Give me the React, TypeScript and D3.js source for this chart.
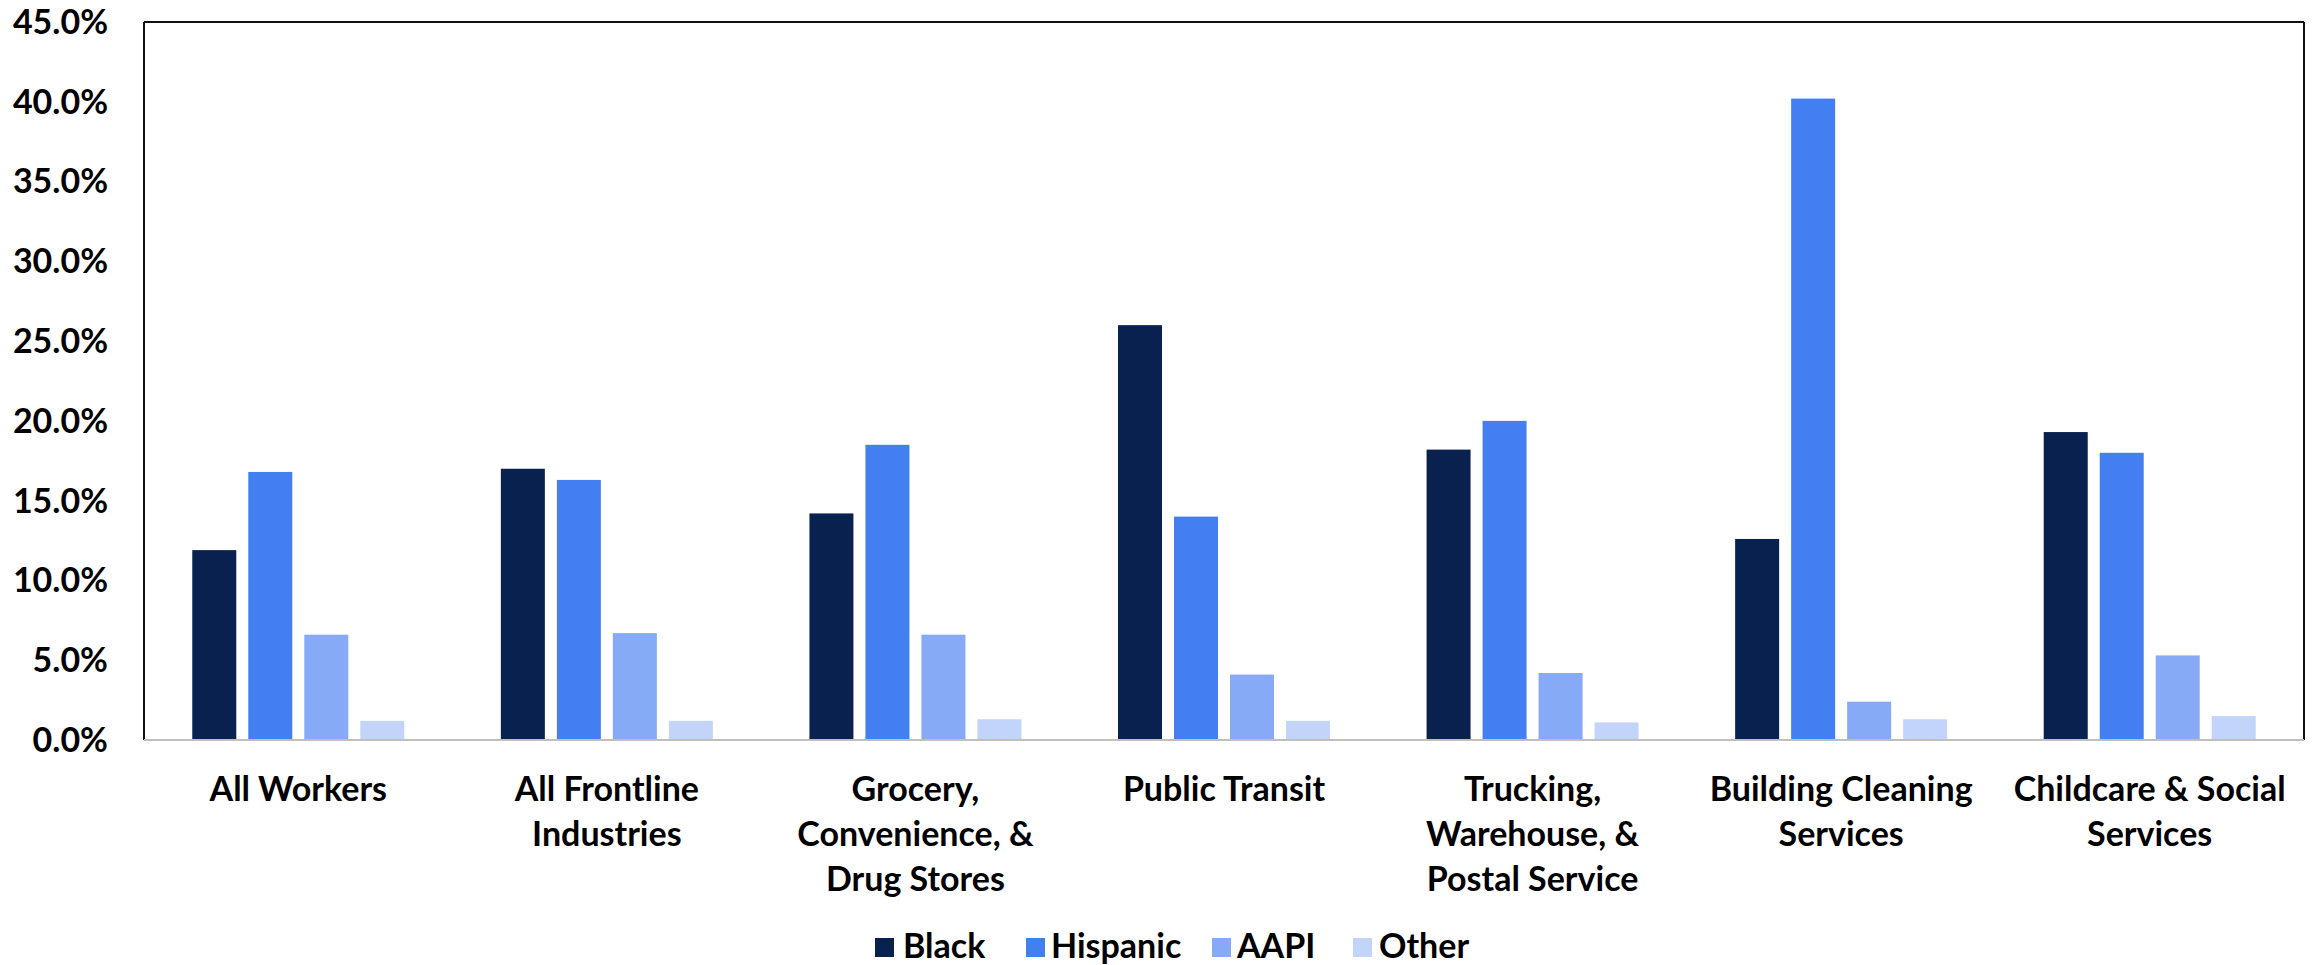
import React from "react";
import * as d3 from "d3";

// Share of workers by race/ethnicity across frontline industries
const categories: string[][] = [
  ["All Workers"],
  ["All Frontline", "Industries"],
  ["Grocery,", "Convenience, &", "Drug Stores"],
  ["Public Transit"],
  ["Trucking,", "Warehouse, &", "Postal Service"],
  ["Building Cleaning", "Services"],
  ["Childcare & Social", "Services"],
];

const seriesNames = ["Black", "Hispanic", "AAPI", "Other"];

const black = [0.119, 0.17, 0.142, 0.26, 0.182, 0.126, 0.193];
const hispanic = [0.168, 0.163, 0.185, 0.14, 0.2, 0.402, 0.18];
const aapi = [0.066, 0.067, 0.066, 0.041, 0.042, 0.024, 0.053];
const other = [0.012, 0.012, 0.013, 0.012, 0.011, 0.013, 0.015];

const yTicks = [0, 0.05, 0.1, 0.15, 0.2, 0.25, 0.3, 0.35, 0.4, 0.45];

const colors = ["#08214F", "#447FF1", "#86AAF5", "#C2D4FA"];

const W = 2318;
const H = 965;
const FONT = "Lato, 'Open Sans', sans-serif";

export default function App() {
  const values = [black, hispanic, aapi, other];
  const left = 144;
  const right = 2304;
  const top = 22;
  const bottom = 740;

  const x0 = d3
    .scaleBand<number>()
    .domain(categories.map((_, i) => i))
    .range([left, right])
    .paddingInner(0)
    .paddingOuter(0);
  const bw = x0.bandwidth();
  const groupW = 212;
  const x1 = d3
    .scaleBand<number>()
    .domain(seriesNames.map((_, i) => i))
    .range([(bw - groupW) / 2, (bw + groupW) / 2])
    .paddingInner(12 / 56)
    .paddingOuter(0);
  const y = d3.scaleLinear().domain([0, 0.45]).range([bottom, top]);
  const fmt = d3.format(".1%");

  const legendItems = [
    { sx: 875, tx: 903 },
    { sx: 1026, tx: 1051 },
    { sx: 1212, tx: 1237 },
    { sx: 1353, tx: 1379 },
  ];

  return (
    <svg
      width={W}
      height={H}
      style={{ position: "absolute", left: 0, top: 0, background: "#fff" }}
      fontFamily={FONT}
    >
      <rect x={0} y={0} width={W} height={H} fill="#fff" />
      {/* y-axis tick labels */}
      {yTicks.map((t) => (
        <text
          key={t}
          x={108}
          y={y(t)}
          dy="0.35em"
          textAnchor="end"
          fontSize={34}
          fontWeight={700}
          fill="#000"
        >
          {fmt(t)}
        </text>
      ))}
      {/* bars */}
      {categories.map((_, ci) => (
        <g key={ci} transform={`translate(${x0(ci)},0)`}>
          {values.map((vals, si) => (
            <rect
              key={si}
              x={x1(si)}
              y={y(vals[ci])}
              width={x1.bandwidth()}
              height={bottom - y(vals[ci])}
              fill={colors[si]}
            />
          ))}
        </g>
      ))}
      {/* plot frame */}
      <line x1={left} x2={right} y1={top} y2={top} stroke="#111" strokeWidth={2} />
      <line x1={left} x2={left} y1={top} y2={bottom} stroke="#111" strokeWidth={2} />
      <line x1={right} x2={right} y1={top} y2={bottom} stroke="#111" strokeWidth={2} />
      <line x1={left} x2={right} y1={bottom} y2={bottom} stroke="#BFBFBF" strokeWidth={2} />
      {/* category labels */}
      {categories.map((lines, ci) => (
        <text
          key={ci}
          x={(x0(ci) as number) + bw / 2}
          y={801}
          textAnchor="middle"
          fontSize={34}
          fontWeight={700}
          fill="#000"
        >
          {lines.map((ln, li) => (
            <tspan key={li} x={(x0(ci) as number) + bw / 2} dy={li === 0 ? 0 : 45}>
              {ln}
            </tspan>
          ))}
        </text>
      ))}
      {/* legend */}
      {seriesNames.map((name, si) => (
        <g key={name}>
          <rect x={legendItems[si].sx} y={938} width={19} height={19} fill={colors[si]} />
          <text
            x={legendItems[si].tx}
            y={958}
            fontSize={34}
            fontWeight={700}
            fill="#000"
          >
            {name}
          </text>
        </g>
      ))}
    </svg>
  );
}
